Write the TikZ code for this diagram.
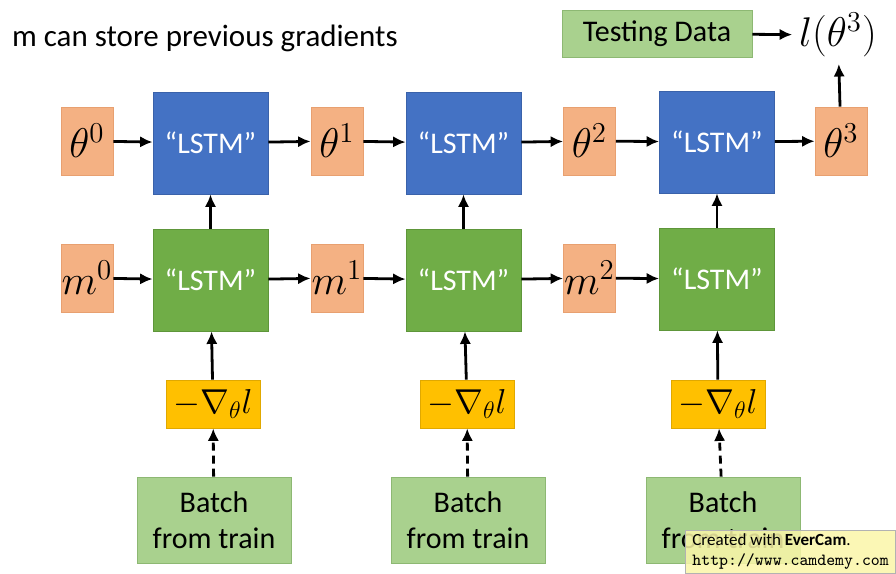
\documentclass[tikz,border=0pt]{standalone}
\usepackage{fontspec}
\setmainfont{Carlito}
\usepackage{amsmath}
\usepackage{tikz}
\usetikzlibrary{arrows.meta}
\definecolor{paramfill}{HTML}{F4B183}
\definecolor{paramdraw}{HTML}{E8A070}
\definecolor{bluefill}{HTML}{4472C4}
\definecolor{bluedraw}{HTML}{3A62AA}
\definecolor{greenfill}{HTML}{70AD47}
\definecolor{greendraw}{HTML}{5E963A}
\definecolor{lightgreen}{HTML}{A9D18E}
\definecolor{lightgreendraw}{HTML}{8DB873}
\definecolor{gradfill}{HTML}{FFC000}
\definecolor{graddraw}{HTML}{E0A800}
\definecolor{markfill}{HTML}{FAF6A8}
\tikzstyle{param}=[rectangle, fill=paramfill, draw=paramdraw, minimum width=26pt, minimum height=34pt, inner sep=0pt, font=\fontsize{20}{22}\selectfont]
\tikzstyle{lstmblue}=[rectangle, fill=bluefill, draw=bluedraw, minimum width=57.5pt, minimum height=51pt, text=white, font=\fontsize{15}{17}\selectfont]
\tikzstyle{lstmgreen}=[rectangle, fill=greenfill, draw=greendraw, minimum width=57.5pt, minimum height=51pt, text=white, font=\fontsize{15}{17}\selectfont]
\tikzstyle{grad}=[rectangle, fill=gradfill, draw=graddraw, minimum width=47pt, minimum height=24pt, inner sep=0pt, font=\fontsize{18}{20}\selectfont]
\tikzstyle{data}=[rectangle, fill=lightgreen, draw=lightgreendraw, align=center, font=\fontsize{15}{18}\selectfont]
\tikzstyle{arrow}=[draw=black, line width=1.4pt, ->, >={Latex[length=2.2mm, width=2mm]}]
\tikzstyle{dasharrow}=[arrow, dash pattern=on 4pt off 2.5pt]

\begin{document}
\begin{tikzpicture}[x=0.5pt, y=-0.5pt]
	\useasboundingbox (0,0) rectangle (896,574);
	\begin{scope}
		\node (title) at (5,38)[anchor=west, font=\fontsize{15.5}{17}\selectfont] {m can store previous gradients};
		\node (test) at (657,33.5)[data, minimum width=95pt, minimum height=23.5pt] {Testing Data};
		\node (loss) at (838,35)[font=\fontsize{21}{23}\selectfont] {$l(\theta^3)$};
		% parameter row
		\node (t0) at (87,141)[param] {$\theta^0$};
		\node (L1) at (210.5,143)[lstmblue] {``LSTM''};
		\node (t1) at (337,141)[param] {$\theta^1$};
		\node (L2) at (463.5,143)[lstmblue] {``LSTM''};
		\node (t2) at (589.5,141)[param] {$\theta^2$};
		\node (L3) at (717,142)[lstmblue] {``LSTM''};
		\node (t3) at (841,141)[param] {$\theta^3$};
		% memory row
		\node (m0) at (87,278)[param] {$m^0$};
		\node (G1) at (210.5,280)[lstmgreen] {``LSTM''};
		\node (m1) at (337,278)[param] {$m^1$};
		\node (G2) at (463.5,280)[lstmgreen] {``LSTM''};
		\node (m2) at (589.5,278)[param] {$m^2$};
		\node (G3) at (717,279)[lstmgreen] {``LSTM''};
		% gradients
		\node (d1) at (213,404)[grad] {$-\nabla_\theta l$};
		\node (d2) at (467,404)[grad] {$-\nabla_\theta l$};
		\node (d3) at (718,404)[grad] {$-\nabla_\theta l$};
		% batches
		\node (b1) at (214,520)[data, minimum width=77pt, minimum height=43pt] {Batch\\from train};
		\node (b2) at (468,520)[data, minimum width=77pt, minimum height=43pt] {Batch\\from train};
		\node (b3) at (723,520)[data, minimum width=77pt, minimum height=43pt] {Batch\\from train};
	\end{scope}
	\begin{scope}
		\path [arrow] (t0) edge (L1);
		\path [arrow] (L1) edge (t1);
		\path [arrow] (t1) edge (L2);
		\path [arrow] (L2) edge (t2);
		\path [arrow] (t2) edge (L3);
		\path [arrow] (L3) edge (t3);
		\path [arrow] (t3) edge (loss);
		\path [arrow] (test) edge (loss);
		\path [arrow] (m0) edge (G1);
		\path [arrow] (G1) edge (m1);
		\path [arrow] (m1) edge (G2);
		\path [arrow] (G2) edge (m2);
		\path [arrow] (m2) edge (G3);
		\path [arrow] (G1) edge (L1);
		\path [arrow] (G2) edge (L2);
		\path [arrow] (G3) edge (L3);
		\path [arrow] (d1) edge (G1);
		\path [arrow] (d2) edge (G2);
		\path [arrow] (d3) edge (G3);
		\path [dasharrow] (b1) edge (d1);
		\path [dasharrow] (b2) edge (d2);
		\path [dasharrow] (b3) edge (d3);
	\end{scope}
	\node (mark) at (896,574)[anchor=south east, rectangle, fill=markfill, fill opacity=0.85, text opacity=1, draw=black!30, align=left, minimum width=105pt, minimum height=21.5pt, inner sep=2pt, font=\fontsize{8.5}{10}\selectfont] {Created with \textbf{EverCam}.\\\texttt{http://www.camdemy.com}};
\end{tikzpicture}
\end{document}
